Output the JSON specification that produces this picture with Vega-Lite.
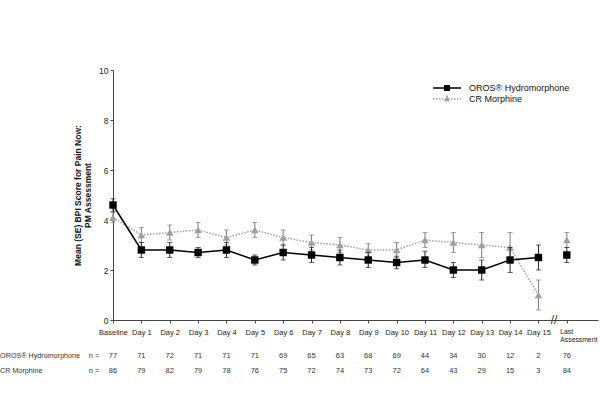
{
  "$schema": "https://vega.github.io/schema/vega-lite/v6.json",
  "width": 485,
  "height": 250,
  "autosize": {"type": "none"},
  "padding": {"left": 113, "top": 70, "right": 2, "bottom": 89},
  "background": "white",
  "config": {
    "view": {"stroke": null},
    "font": "Liberation Sans",
    "axis": {"grid": false, "domainColor": "#444", "tickColor": "#444", "labelColor": "#222", "labelFont": "Liberation Sans", "titleFont": "Liberation Sans", "labelOverlap": false},
    "axisY": {"tickCount": 10}
  },
  "datasets": {
    "pts": [
      {"pos": 0, "series": "OROS® Hydromorphone", "seg": "a", "mean": 4.6, "lo": 4.35, "hi": 4.85, "n": 77},
      {"pos": 1, "series": "OROS® Hydromorphone", "seg": "a", "mean": 2.8, "lo": 2.5, "hi": 3.1, "n": 71},
      {"pos": 2, "series": "OROS® Hydromorphone", "seg": "a", "mean": 2.8, "lo": 2.5, "hi": 3.1, "n": 72},
      {"pos": 3, "series": "OROS® Hydromorphone", "seg": "a", "mean": 2.7, "lo": 2.5, "hi": 2.9, "n": 71},
      {"pos": 4, "series": "OROS® Hydromorphone", "seg": "a", "mean": 2.8, "lo": 2.5, "hi": 3.1, "n": 71},
      {"pos": 5, "series": "OROS® Hydromorphone", "seg": "a", "mean": 2.4, "lo": 2.2, "hi": 2.6, "n": 71},
      {"pos": 6, "series": "OROS® Hydromorphone", "seg": "a", "mean": 2.7, "lo": 2.4, "hi": 3.0, "n": 69},
      {"pos": 7, "series": "OROS® Hydromorphone", "seg": "a", "mean": 2.6, "lo": 2.3, "hi": 2.9, "n": 65},
      {"pos": 8, "series": "OROS® Hydromorphone", "seg": "a", "mean": 2.5, "lo": 2.2, "hi": 2.8, "n": 63},
      {"pos": 9, "series": "OROS® Hydromorphone", "seg": "a", "mean": 2.4, "lo": 2.1, "hi": 2.7, "n": 68},
      {"pos": 10, "series": "OROS® Hydromorphone", "seg": "a", "mean": 2.3, "lo": 2.05, "hi": 2.55, "n": 69},
      {"pos": 11, "series": "OROS® Hydromorphone", "seg": "a", "mean": 2.4, "lo": 2.1, "hi": 2.75, "n": 44},
      {"pos": 12, "series": "OROS® Hydromorphone", "seg": "a", "mean": 2.0, "lo": 1.7, "hi": 2.3, "n": 34},
      {"pos": 13, "series": "OROS® Hydromorphone", "seg": "a", "mean": 2.0, "lo": 1.6, "hi": 2.4, "n": 30},
      {"pos": 14, "series": "OROS® Hydromorphone", "seg": "a", "mean": 2.4, "lo": 1.9, "hi": 2.9, "n": 12},
      {"pos": 15, "series": "OROS® Hydromorphone", "seg": "a", "mean": 2.5, "lo": 2.0, "hi": 3.0, "n": 2},
      {"pos": 16, "series": "OROS® Hydromorphone", "seg": "b", "mean": 2.6, "lo": 2.3, "hi": 2.9, "n": 76},
      {"pos": 0, "series": "CR Morphine", "seg": "a", "mean": 4.1, "lo": 3.9, "hi": 4.3, "n": 86},
      {"pos": 1, "series": "CR Morphine", "seg": "a", "mean": 3.4, "lo": 3.1, "hi": 3.7, "n": 79},
      {"pos": 2, "series": "CR Morphine", "seg": "a", "mean": 3.5, "lo": 3.2, "hi": 3.8, "n": 82},
      {"pos": 3, "series": "CR Morphine", "seg": "a", "mean": 3.6, "lo": 3.3, "hi": 3.9, "n": 79},
      {"pos": 4, "series": "CR Morphine", "seg": "a", "mean": 3.3, "lo": 3.0, "hi": 3.6, "n": 78},
      {"pos": 5, "series": "CR Morphine", "seg": "a", "mean": 3.6, "lo": 3.3, "hi": 3.9, "n": 76},
      {"pos": 6, "series": "CR Morphine", "seg": "a", "mean": 3.3, "lo": 3.0, "hi": 3.6, "n": 75},
      {"pos": 7, "series": "CR Morphine", "seg": "a", "mean": 3.1, "lo": 2.8, "hi": 3.4, "n": 72},
      {"pos": 8, "series": "CR Morphine", "seg": "a", "mean": 3.0, "lo": 2.7, "hi": 3.3, "n": 74},
      {"pos": 9, "series": "CR Morphine", "seg": "a", "mean": 2.8, "lo": 2.55, "hi": 3.05, "n": 73},
      {"pos": 10, "series": "CR Morphine", "seg": "a", "mean": 2.8, "lo": 2.5, "hi": 3.1, "n": 72},
      {"pos": 11, "series": "CR Morphine", "seg": "a", "mean": 3.2, "lo": 2.9, "hi": 3.5, "n": 64},
      {"pos": 12, "series": "CR Morphine", "seg": "a", "mean": 3.1, "lo": 2.7, "hi": 3.5, "n": 43},
      {"pos": 13, "series": "CR Morphine", "seg": "a", "mean": 3.0, "lo": 2.5, "hi": 3.5, "n": 29},
      {"pos": 14, "series": "CR Morphine", "seg": "a", "mean": 2.9, "lo": 2.4, "hi": 3.5, "n": 15},
      {"pos": 15, "series": "CR Morphine", "seg": "a", "mean": 1.0, "lo": 0.4, "hi": 1.6, "n": 3},
      {"pos": 16, "series": "CR Morphine", "seg": "b", "mean": 3.2, "lo": 2.9, "hi": 3.5, "n": 84}
    ],
    "rowlabels": [
      {"series": "OROS® Hydromorphone", "lab": "OROS® Hydromorphone", "eq": "n ="},
      {"series": "CR Morphine", "lab": "CR Morphine", "eq": "n ="}
    ],
    "brk": [{"mark": "//"}]
  },
  "data": {"name": "pts"},
  "layer": [
    {
      "transform": [{"filter": "datum.series === 'CR Morphine'"}],
      "mark": {"type": "rule", "color": "#7a7a7a", "strokeWidth": 1},
      "encoding": {
        "x": {"field": "pos", "type": "quantitative", "scale": {"domain": [0, 17.1], "nice": false, "zero": false},
          "axis": {"values": [0,1,2,3,4,5,6,7,8,9,10,11,12,13,14,15,16], "tickCount": 17, "title": null, "tickSize": 3, "labelPadding": 5, "labelOverlap": false, "labelBound": false,
            "labelExpr": "datum.value == 0 ? 'Baseline' : datum.value == 16 ? ['Last', 'Assessment'] : datum.value > 16 ? '' : 'Day ' + datum.value",
            "labelFontSize": {"condition": {"test": "datum.value == 16", "value": 6.8}, "value": 7.5},
            "labelAlign": {"condition": {"test": "datum.value == 16", "value": "left"}, "value": "center"},
            "labelOffset": {"condition": {"test": "datum.value == 16", "value": -7}, "value": 0}}},
        "y": {"field": "lo", "type": "quantitative", "scale": {"domain": [0, 10], "nice": false},
          "axis": {"values": [0,1,2,3,4,5,6,7,8,9,10], "tickCount": 10, "tickSize": 3, "labelFontSize": 8.5, "labelPadding": 2, "labelOverlap": false,
            "title": ["Mean (SE) BPI Score for Pain Now:", "PM Assessment"], "titleFontSize": 8.5, "titleFontWeight": "bold", "titleColor": "#111", "titlePadding": 6}},
        "y2": {"field": "hi"}
      }
    },
    {
      "transform": [{"filter": "datum.series === 'CR Morphine'"}],
      "mark": {"type": "tick", "color": "#7a7a7a", "orient": "horizontal", "size": 5, "thickness": 1},
      "encoding": {"x": {"field": "pos", "type": "quantitative"}, "y": {"field": "lo", "type": "quantitative", "axis": {"values": [0,1,2,3,4,5,6,7,8,9,10], "tickCount": 10}}}
    },
    {
      "transform": [{"filter": "datum.series === 'CR Morphine'"}],
      "mark": {"type": "tick", "color": "#7a7a7a", "orient": "horizontal", "size": 5, "thickness": 1},
      "encoding": {"x": {"field": "pos", "type": "quantitative"}, "y": {"field": "hi", "type": "quantitative", "axis": {"values": [0,1,2,3,4,5,6,7,8,9,10], "tickCount": 10}}}
    },
    {
      "transform": [{"filter": "datum.series === 'CR Morphine'"}],
      "mark": {"type": "line", "color": "#a0a0a0", "strokeWidth": 1.5, "strokeDash": [1.5, 1.5]},
      "encoding": {"x": {"field": "pos", "type": "quantitative"}, "y": {"field": "mean", "type": "quantitative", "axis": {"values": [0,1,2,3,4,5,6,7,8,9,10], "tickCount": 10}}, "detail": {"field": "seg", "type": "nominal"}}
    },
    {
      "transform": [{"filter": "datum.series === 'CR Morphine'"}],
      "mark": {"type": "point", "shape": "triangle-up", "filled": true, "size": 60, "opacity": 1, "color": "#a0a0a0"},
      "encoding": {"x": {"field": "pos", "type": "quantitative"}, "y": {"field": "mean", "type": "quantitative", "axis": {"values": [0,1,2,3,4,5,6,7,8,9,10], "tickCount": 10}}}
    },
    {
      "transform": [{"filter": "datum.series !== 'CR Morphine'"}],
      "mark": {"type": "rule", "color": "#222", "strokeWidth": 1},
      "encoding": {"x": {"field": "pos", "type": "quantitative"}, "y": {"field": "lo", "type": "quantitative", "axis": {"values": [0,1,2,3,4,5,6,7,8,9,10], "tickCount": 10}}, "y2": {"field": "hi"}}
    },
    {
      "transform": [{"filter": "datum.series !== 'CR Morphine'"}],
      "mark": {"type": "tick", "color": "#222", "orient": "horizontal", "size": 5, "thickness": 1},
      "encoding": {"x": {"field": "pos", "type": "quantitative"}, "y": {"field": "lo", "type": "quantitative", "axis": {"values": [0,1,2,3,4,5,6,7,8,9,10], "tickCount": 10}}}
    },
    {
      "transform": [{"filter": "datum.series !== 'CR Morphine'"}],
      "mark": {"type": "tick", "color": "#222", "orient": "horizontal", "size": 5, "thickness": 1},
      "encoding": {"x": {"field": "pos", "type": "quantitative"}, "y": {"field": "hi", "type": "quantitative", "axis": {"values": [0,1,2,3,4,5,6,7,8,9,10], "tickCount": 10}}}
    },
    {
      "transform": [{"filter": "datum.series !== 'CR Morphine'"}],
      "mark": {"type": "line", "color": "#000000", "strokeWidth": 1.5},
      "encoding": {"x": {"field": "pos", "type": "quantitative"}, "y": {"field": "mean", "type": "quantitative", "axis": {"values": [0,1,2,3,4,5,6,7,8,9,10], "tickCount": 10}}, "detail": {"field": "seg", "type": "nominal"}}
    },
    {
      "transform": [{"filter": "datum.series !== 'CR Morphine'"}],
      "mark": {"type": "point", "shape": "square", "filled": true, "size": 55, "opacity": 1, "color": "#000000"},
      "encoding": {"x": {"field": "pos", "type": "quantitative"}, "y": {"field": "mean", "type": "quantitative", "axis": {"values": [0,1,2,3,4,5,6,7,8,9,10], "tickCount": 10}}}
    },
    {
      "transform": [{"filter": "datum.pos == 0"}],
      "mark": {"type": "point", "filled": true, "opacity": 0, "strokeWidth": 1.3, "size": 64},
      "encoding": {"x": {"field": "pos", "type": "quantitative"}, "y": {"field": "mean", "type": "quantitative", "axis": {"values": [0,1,2,3,4,5,6,7,8,9,10], "tickCount": 10}},
        "shape": {"field": "series", "type": "nominal", "scale": {"domain": ["OROS® Hydromorphone", "CR Morphine"], "range": ["M-3.5,0H3.5M-0.6,-0.6H0.6V0.6H-0.6Z", "M-3.5,0H3.5M0,-0.7L0.65,0.5H-0.65Z"]},
          "legend": {"title": null, "orient": "none", "legendX": 329, "legendY": 13, "labelFontSize": 9, "labelColor": "#111", "labelFont": "Liberation Sans", "symbolSize": 64, "labelOffset": 17, "rowPadding": 0, "symbolOpacity": 1, "symbolStrokeWidth": 1.3}},
        "fill": {"field": "series", "type": "nominal", "scale": {"domain": ["OROS® Hydromorphone", "CR Morphine"], "range": ["#000000", "#a0a0a0"]},
          "legend": {"title": null, "orient": "none", "legendX": 329, "legendY": 13, "labelFontSize": 9, "labelColor": "#111", "labelFont": "Liberation Sans", "symbolSize": 64, "labelOffset": 17, "rowPadding": 0, "symbolOpacity": 1, "symbolStrokeWidth": 1.3}},
        "stroke": {"field": "series", "type": "nominal", "scale": {"domain": ["OROS® Hydromorphone", "CR Morphine"], "range": ["#000000", "#a0a0a0"]},
          "legend": {"title": null, "orient": "none", "legendX": 329, "legendY": 13, "labelFontSize": 9, "labelColor": "#111", "labelFont": "Liberation Sans", "symbolSize": 64, "labelOffset": 17, "rowPadding": 0, "symbolOpacity": 1, "symbolStrokeWidth": 1.3}},
        "strokeDash": {"field": "series", "type": "nominal", "scale": {"domain": ["OROS® Hydromorphone", "CR Morphine"], "range": [[1, 0], [1.5, 1.5]]},
          "legend": {"title": null, "orient": "none", "legendX": 329, "legendY": 13, "labelFontSize": 9, "labelColor": "#111", "labelFont": "Liberation Sans", "symbolSize": 64, "labelOffset": 17, "rowPadding": 0, "symbolOpacity": 1, "symbolStrokeWidth": 1.3}}
      }
    },
    {
      "transform": [{"filter": "datum.series !== 'CR Morphine'"}],
      "mark": {"type": "text", "fontSize": 7.5, "color": "#333", "clip": false},
      "encoding": {"x": {"field": "pos", "type": "quantitative"}, "y": {"datum": -1.45, "type": "quantitative", "axis": {"values": [0,1,2,3,4,5,6,7,8,9,10], "tickCount": 10}}, "text": {"field": "n", "type": "quantitative"}}
    },
    {
      "transform": [{"filter": "datum.series === 'CR Morphine'"}],
      "mark": {"type": "text", "fontSize": 7.5, "color": "#333", "clip": false},
      "encoding": {"x": {"field": "pos", "type": "quantitative"}, "y": {"datum": -2.05, "type": "quantitative", "axis": {"values": [0,1,2,3,4,5,6,7,8,9,10], "tickCount": 10}}, "text": {"field": "n", "type": "quantitative"}}
    },
    {
      "data": {"name": "rowlabels"},
      "transform": [{"filter": "datum.series !== 'CR Morphine'"}],
      "layer": [
        {"mark": {"type": "text", "fontSize": 7.2, "color": "#333", "align": "left", "clip": false},
         "encoding": {"x": {"datum": -3.98, "type": "quantitative"}, "y": {"datum": -1.45, "type": "quantitative", "axis": {"values": [0,1,2,3,4,5,6,7,8,9,10], "tickCount": 10}}, "text": {"field": "lab", "type": "nominal"}}},
        {"mark": {"type": "text", "fontSize": 7.5, "color": "#333", "clip": false},
         "encoding": {"x": {"datum": -0.67, "type": "quantitative"}, "y": {"datum": -1.45, "type": "quantitative", "axis": {"values": [0,1,2,3,4,5,6,7,8,9,10], "tickCount": 10}}, "text": {"field": "eq", "type": "nominal"}}}
      ]
    },
    {
      "data": {"name": "rowlabels"},
      "transform": [{"filter": "datum.series === 'CR Morphine'"}],
      "layer": [
        {"mark": {"type": "text", "fontSize": 7.2, "color": "#333", "align": "left", "clip": false},
         "encoding": {"x": {"datum": -3.98, "type": "quantitative"}, "y": {"datum": -2.05, "type": "quantitative", "axis": {"values": [0,1,2,3,4,5,6,7,8,9,10], "tickCount": 10}}, "text": {"field": "lab", "type": "nominal"}}},
        {"mark": {"type": "text", "fontSize": 7.5, "color": "#333", "clip": false},
         "encoding": {"x": {"datum": -0.67, "type": "quantitative"}, "y": {"datum": -2.05, "type": "quantitative", "axis": {"values": [0,1,2,3,4,5,6,7,8,9,10], "tickCount": 10}}, "text": {"field": "eq", "type": "nominal"}}}
      ]
    },
    {
      "data": {"name": "brk"},
      "mark": {"type": "text", "fontSize": 12, "color": "#333", "clip": false},
      "encoding": {"x": {"datum": 15.55, "type": "quantitative"}, "y": {"datum": 0, "type": "quantitative", "axis": {"values": [0,1,2,3,4,5,6,7,8,9,10], "tickCount": 10}}, "text": {"field": "mark", "type": "nominal"}}
    }
  ]
}
